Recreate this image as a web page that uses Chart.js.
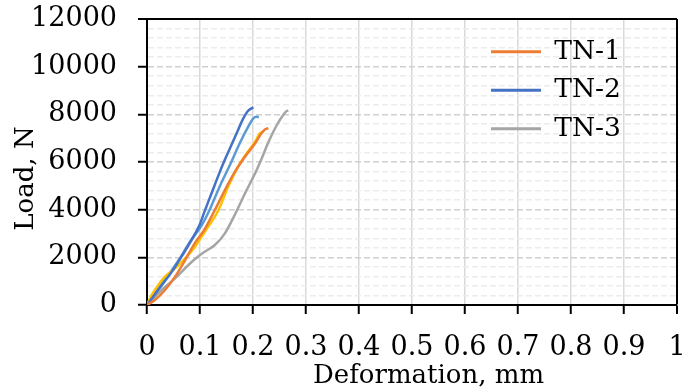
<!DOCTYPE html>
<html>
<head>
<meta charset="utf-8">
<script src="https://cdn.jsdelivr.net/npm/chart.js@4/dist/chart.umd.min.js"></script>
<style>
  html, body { margin: 0; padding: 0; background: #ffffff; }
  #wrap { width: 686px; height: 392px; }
</style>
</head>
<body>
<div id="wrap"><canvas id="chart" width="686" height="392"></canvas></div>
<script>
// Load–deformation records of the TN specimens (deformation in mm, load in N)
const tn1Def  = [0, 0.015, 0.034, 0.053, 0.072, 0.090, 0.108, 0.128, 0.147, 0.166, 0.185, 0.204, 0.216, 0.223, 0.229];
const tn1Load = [0, 210, 629, 1189, 1888, 2587, 3147, 3986, 4825, 5593, 6223, 6785, 7205, 7372, 7414];

const tn2Def  = [0, 0.0025, 0.021, 0.047, 0.065, 0.084, 0.098, 0.109, 0.122, 0.135, 0.146, 0.158, 0.170, 0.181, 0.190, 0.198, 0.2006];
const tn2Load = [0, 71, 629, 1399, 2027, 2727, 3300, 3950, 4700, 5450, 6050, 6650, 7250, 7800, 8130, 8260, 8296];

const tn3Def  = [0, 0.0088, 0.0277, 0.053, 0.078, 0.100, 0.109, 0.128, 0.147, 0.166, 0.185, 0.204, 0.217, 0.230, 0.245, 0.257, 0.2636, 0.2667];
const tn3Load = [0, 210, 629, 1119, 1678, 2098, 2237, 2518, 3007, 3800, 4687, 5526, 6180, 6880, 7553, 7972, 8140, 8153];

const s4Def   = [0, 0.0088, 0.0214, 0.034, 0.053, 0.072, 0.0906, 0.103, 0.116, 0.135, 0.153, 0.172, 0.188, 0.204, 0.213, 0.2195];
const s4Load  = [0, 420, 839, 1189, 1538, 1958, 2447, 2867, 3300, 3986, 4964, 5803, 6365, 6852, 7205, 7272];

const s5Def   = [0, 0.021, 0.047, 0.064, 0.081, 0.102, 0.118, 0.137, 0.158, 0.175, 0.191, 0.2006, 0.207, 0.211];
const s5Load  = [0, 699, 1469, 2027, 2657, 3300, 3986, 4964, 5946, 6785, 7482, 7834, 7902, 7876];

const seriesLabels = ['TN-1', 'TN-2', 'TN-3', 'Series4', 'Series5'];
const legendCount = 3;

const xMin = 0, xMax = 1, xStep = 0.1;
const yMin = 0, yMax = 12000, yMajor = 2000, yMinor = 400;

const FONT = 'DejaVu Serif';
const colors = ['#ED7D31', '#4472C4', '#A5A5A5', '#FFC000', '#5B9BD5'];
const defs  = [tn1Def, tn2Def, tn3Def, s4Def, s5Def];
const loads = [tn1Load, tn2Load, tn3Load, s4Load, s5Load];

const datasets = seriesLabels.map((label, k) => ({
  label,
  data: defs[k].map((d, i) => ({ x: d, y: loads[k][i] })),
  borderColor: colors[k],
  backgroundColor: colors[k],
  borderWidth: 2.5,
  pointRadius: 0,
  pointHoverRadius: 0,
  cubicInterpolationMode: 'monotone',
  fill: false
}));

const tickVal = ctx => (ctx && ctx.tick) ? ctx.tick.value : null;

// Places the vertical legend inside the plot, near the upper right
const legendPlacer = {
  id: 'legendPlacer',
  afterLayout(chart) {
    const lg = chart.legend;
    if (!lg) return;
    lg.left = 479;
    lg.top = 26.5;
  }
};

new Chart(document.getElementById('chart'), {
  type: 'line',
  data: { datasets },
  options: {
    responsive: false,
    animation: false,
    events: [],
    layout: { padding: { left: 0, top: 19, right: 9, bottom: 0 } },
    plugins: {
      tooltip: { enabled: false },
      legend: {
        position: 'chartArea',
        align: 'start',
        labels: {
          boxWidth: 50,
          boxHeight: 3,
          padding: 12,
          color: '#000000',
          font: { family: FONT, size: 26.5 },
          filter: item => item.datasetIndex < legendCount,
          generateLabels: chart =>
            Chart.defaults.plugins.legend.labels.generateLabels(chart)
              .map(l => Object.assign(l, { lineWidth: 0, fillStyle: l.strokeStyle }))
        }
      }
    },
    scales: {
      x: {
        type: 'linear',
        min: xMin,
        max: xMax,
        ticks: {
          stepSize: xStep,
          autoSkip: false,
          maxRotation: 0,
          padding: 18,
          color: '#000000',
          font: { family: FONT, size: 27 },
          callback: v => String(Math.round(v * 10) / 10)
        },
        grid: {
          color: ctx => (Math.abs(tickVal(ctx) - xMax) < 1e-9 ? '#000000' : '#d9d9d9'),
          lineWidth: ctx => (Math.abs(tickVal(ctx) - xMax) < 1e-9 ? 2 : 1.5),
          tickColor: '#000000',
          tickLength: 9,
          tickWidth: 2
        },
        border: { color: '#000000', width: 2 },
        title: {
          display: true,
          text: '    Deformation, mm',
          color: '#000000',
          font: { family: FONT, size: 26 },
          padding: { top: 0, bottom: 0 }
        },
        afterFit: scale => {
          scale.height = 87;
          scale.paddingLeft = 0;
          scale.paddingRight = 0;
        }
      },
      y: {
        type: 'linear',
        min: yMin,
        max: yMax,
        ticks: {
          stepSize: yMinor,
          autoSkip: false,
          padding: 21,
          color: '#000000',
          font: { family: FONT, size: 27 },
          callback: v => (v % yMajor === 0 ? String(v) : '')
        },
        grid: {
          color: ctx => {
            const v = tickVal(ctx);
            if (v === yMax) return '#000000';
            return v % yMajor === 0 ? '#d0d0d0' : '#ececec';
          },
          lineWidth: ctx => (tickVal(ctx) === yMax ? 2 : 1.5),
          tickColor: ctx => (tickVal(ctx) % yMajor === 0 ? '#000000' : 'rgba(0,0,0,0)'),
          tickLength: 9,
          tickWidth: 2
        },
        border: {
          color: '#000000',
          width: 2,
          dash: ctx => (tickVal(ctx) === yMax ? [] : [6, 3])
        },
        title: {
          display: true,
          text: 'Load, N    ',
          color: '#000000',
          font: { family: FONT, size: 26 },
          padding: { top: 11, bottom: 0 }
        },
        afterFit: scale => {
          scale.width = 147;
          scale.paddingTop = 0;
          scale.paddingBottom = 0;
        }
      }
    }
  },
  plugins: [legendPlacer]
});
</script>
</body>
</html>
